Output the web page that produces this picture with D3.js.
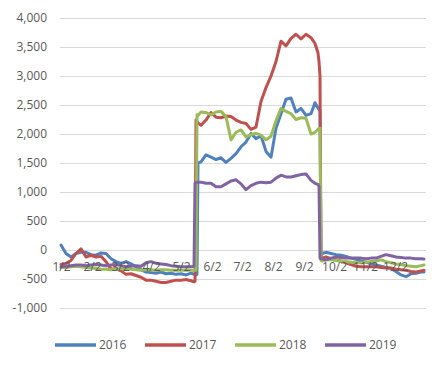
<!DOCTYPE html>
<html>
<head>
<meta charset="utf-8">
<script src="https://cdn.jsdelivr.net/npm/d3@7"></script>
<style>
  body { margin: 0; background: #fff; }
  text { font-family: "Open Sans", sans-serif; fill: #595959; }
</style>
</head>
<body>
<div id="chart"></div>
<script>
// month/day of each sample (year is the same for all series)
var dates = ["1/2","1/7","1/12","1/17","1/22","1/27","2/1","2/6","2/11","2/16","2/21","2/26",
  "3/3","3/8","3/13","3/18","3/23","3/28","4/2","4/7","4/12","4/17","4/22","4/27","5/2","5/7","5/12",
  "5/15","5/16","5/17","5/18","5/19","5/22","5/27","6/1","6/6","6/11","6/16","6/21","6/26","7/1",
  "7/6","7/11","7/16","7/21","7/26","7/31","8/5","8/10","8/15","8/20","8/25","8/30","9/4","9/9",
  "9/13","9/16","9/17","9/18","9/19","9/20","9/24","9/29","10/4","10/9","10/14","10/19","10/24",
  "10/29","11/3","11/8","11/13","11/18","11/23","11/28","12/3","12/8","12/13","12/18","12/23","12/28","12/31"];

var s2016 = [85,-60,-120,-60,-40,-40,-80,-90,-50,-60,-150,-200,-230,-200,-240,-290,-340,-380,-390,-400,
  -380,-410,-400,-420,-410,-430,-400,-420,-420,-430,-420,1500,1520,1640,1600,1560,1590,1510,1580,1660,
  1780,1860,2010,1920,1970,1700,1600,2100,2350,2600,2620,2380,2440,2320,2350,2540,2450,2420,2400,-120,
  -60,-40,-60,-80,-90,-110,-140,-160,-190,-210,-240,-260,-280,-300,-320,-370,-430,-460,-410,-400,-380,-380];

var s2017 = [-250,-230,-180,-60,20,-120,-90,-120,-110,-200,-330,-320,-360,-420,-410,-440,-470,-520,-520,
  -540,-560,-560,-540,-520,-520,-510,-530,-550,-540,2240,2220,2190,2150,2240,2370,2290,2280,2310,2300,
  2240,2200,2180,2080,2120,2560,2800,3000,3250,3600,3520,3650,3720,3640,3720,3660,3560,3400,3250,3000,
  -150,-140,-120,-150,-170,-190,-220,-250,-280,-290,-290,-290,-290,-300,-310,-310,-330,-340,-350,-370,-380,-360,-350];

var s2018 = [-300,-300,-290,-280,-290,-300,-310,-320,-330,-330,-340,-330,-320,-330,-330,-340,-350,-340,
  -340,-350,-340,-340,-350,-350,-350,-350,-350,-350,-350,-350,2330,2320,2380,2370,2330,2380,2390,2300,
  1900,2030,2070,1950,1990,2010,1980,1900,1960,2230,2440,2390,2350,2250,2280,2270,2000,2030,2080,2100,
  2100,-180,-190,-170,-170,-180,-190,-200,-210,-220,-220,-210,-200,-190,-170,-200,-220,-240,-250,-270,
  -280,-290,-270,-260];

var s2019 = [-290,-280,-270,-260,-260,-270,-260,-250,-260,-270,-260,-250,-270,-290,-280,-270,-280,-220,
  -200,-230,-240,-250,-270,-280,-290,-290,-290,-280,1150,1160,1170,1170,1170,1150,1150,1090,1090,1140,
  1190,1210,1140,1040,1110,1150,1170,1160,1170,1240,1290,1260,1260,1280,1300,1310,1200,1150,1130,1100,
  -140,-150,-150,-170,-140,-120,-130,-140,-140,-140,-140,-150,-140,-140,-110,-80,-100,-120,-130,-140,
  -140,-150,-150,-155];

var seriesNames = ["2016", "2017", "2018", "2019"];
var seriesValues = [s2016, s2017, s2018, s2019];
var colors = ["#4F81BD", "#C0504D", "#9BBB59", "#8064A2"];

var tickLabels = ["1/2","2/2","3/2","4/2","5/2","6/2","7/2","8/2","9/2","10/2","11/2","12/2"];
var yTicks = [-1000,-500,0,500,1000,1500,2000,2500,3000,3500,4000];

var width = 446, height = 367;
var plot = {left: 60, right: 426, top: 18, bottom: 308};

var parseDay = d3.timeParse("%m/%d/%Y");
var toDate = function(md) { return parseDay(md + "/2019"); };

var svg = d3.select("#chart").append("svg")
    .attr("width", width)
    .attr("height", height);

var x = d3.scaleTime()
    .domain([toDate("1/2"), toDate("12/31")])
    .range([61, 424]);

var y = d3.scaleLinear()
    .domain([-1000, 4000])
    .range([plot.bottom, plot.top]);

// gridlines + y labels
var yAxis = svg.append("g")
    .attr("transform", "translate(" + plot.left + ",0)")
    .call(d3.axisLeft(y)
      .tickValues(yTicks)
      .tickSize(-(plot.right - plot.left))
      .tickPadding(13)
      .tickFormat(function(d) { return d3.format(",")(d).replace("\u2212", "-"); }));
yAxis.select(".domain").remove();
yAxis.selectAll("line").attr("stroke", "#d9d9d9").attr("stroke-width", 1);
yAxis.selectAll("text").style("font-size", "12px").attr("fill", "#595959");

// series
var line = d3.line()
    .x(function(d, i) { return x(toDate(dates[i])); })
    .y(function(d) { return y(d); });

seriesValues.forEach(function(vals, i) {
  svg.append("path")
    .datum(vals)
    .attr("fill", "none")
    .attr("stroke", colors[i])
    .attr("stroke-width", 3)
    .attr("stroke-linejoin", "round")
    .attr("stroke-linecap", "round")
    .attr("d", line);
});

// x labels sit across the zero line, drawn over the lines like the original
var xAxis = svg.append("g")
    .attr("transform", "translate(0," + y(0) + ")")
    .call(d3.axisBottom(x)
      .tickValues(tickLabels.map(toDate))
      .tickSize(0)
      .tickPadding(12)
      .tickFormat(function(d, i) { return tickLabels[i]; }));
xAxis.select(".domain").remove();
xAxis.selectAll("text").style("font-size", "12px").attr("fill", "#595959");

// legend
var legendX = [55, 145, 235, 325];
var legend = svg.append("g")
  .selectAll("g")
  .data(seriesNames)
  .enter()
  .append("g")
  .attr("transform", function(d, i) { return "translate(" + legendX[i] + ",345)"; });

legend.append("line")
    .attr("x1", 0).attr("x2", 41)
    .attr("stroke", function(d, i) { return colors[i]; })
    .attr("stroke-width", 3.5);

legend.append("text")
    .attr("x", 44)
    .attr("dy", "0.36em")
    .style("font-size", "12px")
    .text(function(d) { return d; });
</script>
</body>
</html>
